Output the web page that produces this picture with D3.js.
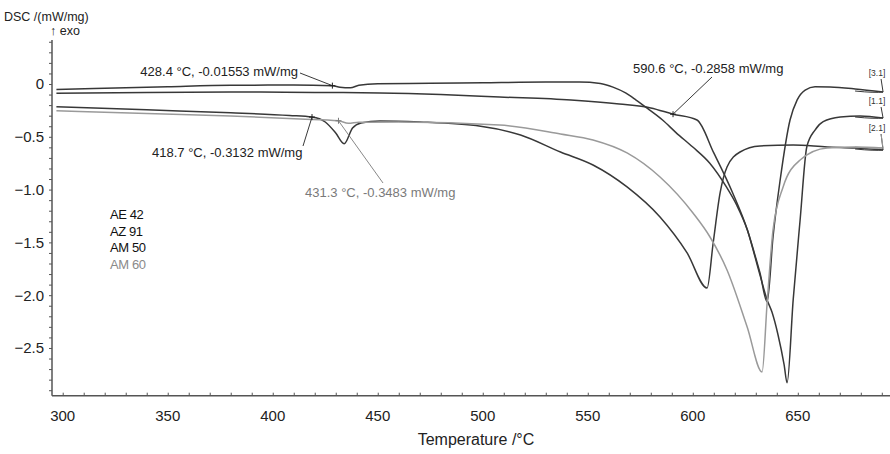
<!DOCTYPE html>
<html>
<head>
<meta charset="utf-8">
<script src="https://cdn.jsdelivr.net/npm/d3@7"></script>
<style>
  html, body { margin: 0; padding: 0; background: #fff; }
  svg { display: block; font-family: "Liberation Sans", Arial, sans-serif; }
</style>
</head>
<body>
<svg id="chart" width="890" height="454"></svg>
<script>
// DSC heating curves of four magnesium alloys (temperature in °C, DSC in mW/mg)
const ae42T = [297, 320, 350, 380, 410, 428.4, 432, 437, 441, 450, 475, 500, 530, 546, 556, 562, 568, 573, 579, 585.6, 592, 600, 608, 616, 621, 626, 629, 632, 635.4, 638.2, 641.6, 646.3, 649.7, 653.5, 658.2, 665.4, 677.3, 690.6];
const ae42V = [-0.052, -0.040, -0.025, -0.012, -0.010, -0.01553, -0.030, -0.036, -0.012, 0.002, 0.006, 0.012, 0.018, 0.018, 0.005, -0.030, -0.085, -0.152, -0.24, -0.341, -0.46, -0.597, -0.748, -0.975, -1.15, -1.383, -1.58, -1.79, -2.064, -1.449, -0.909, -0.341, -0.15, -0.057, -0.025, -0.028, -0.047, -0.076];

const am50T = [297, 340, 380, 420, 451, 480, 508, 542, 565, 580, 590.6, 602, 610, 619, 626, 632, 635.4, 637.7, 640.6, 643.5, 644.9, 647.8, 651.1, 654.3, 658.2, 662.1, 670.2, 679.7, 690.6];
const am50V = [-0.088, -0.080, -0.076, -0.080, -0.085, -0.100, -0.123, -0.152, -0.190, -0.227, -0.2858, -0.341, -0.653, -1.032, -1.383, -1.81, -2.045, -2.16, -2.377, -2.66, -2.83, -2.045, -1.288, -0.594, -0.436, -0.357, -0.3125, -0.303, -0.322];

const az91T = [297, 340, 380, 408, 418.7, 425, 430, 434, 438, 442, 451, 470, 499, 518, 537, 552.5, 568.7, 584.4, 597.3, 606.8, 609.7, 613, 616.3, 622.5, 632, 647.8, 664, 677.3, 690.6];
const az91V = [-0.215, -0.245, -0.272, -0.298, -0.3132, -0.36, -0.464, -0.565, -0.417, -0.37, -0.35, -0.36, -0.40, -0.483, -0.644, -0.767, -0.975, -1.26, -1.6, -1.932, -1.506, -1.032, -0.786, -0.644, -0.587, -0.578, -0.597, -0.606, -0.625];

const am60T = [297, 340, 380, 413, 431.3, 436, 441, 460, 508, 537, 552.5, 568.7, 584.4, 600.1, 608.2, 616.3, 625.9, 633, 635.4, 638.2, 643, 651.1, 664, 677.3, 690.6];
const am60V = [-0.253, -0.280, -0.303, -0.331, -0.3483, -0.372, -0.362, -0.36, -0.388, -0.473, -0.53, -0.653, -0.881, -1.222, -1.449, -1.761, -2.301, -2.727, -2.074, -1.383, -0.975, -0.72, -0.606, -0.597, -0.606];

const seriesNames = ["AE 42", "AZ 91", "AM 50", "AM 60"];
const seriesTags = ["[3.1]", "[2.1]", "[1.1]", "[2.1]"];

// Annotated points: temperature, value
const noteT = [428.4, 590.6, 418.7, 431.3];
const noteV = [-0.01553, -0.2858, -0.3132, -0.3483];

const xTicks = [300, 350, 400, 450, 500, 550, 600, 650];
const yTicks = [0, -0.5, -1.0, -1.5, -2.0, -2.5];

const dark = "#383838", grey = "#9a9a9a";

const svg = d3.select("#chart");
const x = d3.scaleLinear().domain([294.9, 693.9]).range([52, 890]);
const y = d3.scaleLinear().domain([-2.952, 0.4167]).range([395.7, 40]);

const series = [
  { name: seriesNames[0], tag: seriesTags[0], T: ae42T, V: ae42V, color: dark },
  { name: seriesNames[2], tag: seriesTags[2], T: am50T, V: am50V, color: dark },
  { name: seriesNames[1], tag: seriesTags[1], T: az91T, V: az91V, color: dark },
  { name: seriesNames[3], tag: seriesTags[3], T: am60T, V: am60V, color: grey }
];

// Axes
const axisColor = "#555";
const gx = svg.append("g").attr("transform", `translate(0,${y.range()[0]})`);
gx.call(d3.axisBottom(x).tickValues(d3.range(300, 691, 10)).tickSize(-3).tickFormat(""));
gx.call(g => g.select(".domain").remove());
gx.selectAll("line").attr("stroke", axisColor);
svg.append("g").selectAll("text").data(xTicks).join("text")
  .attr("x", d => x(d)).attr("y", 421)
  .attr("text-anchor", "middle").attr("font-size", 15).attr("fill", "#222")
  .text(d => d);

const gy = svg.append("g").attr("transform", `translate(${x.range()[0]},0)`);
gy.call(d3.axisLeft(y).tickValues(d3.range(-29, 5).map(i => i / 10)).tickSize(3).tickFormat(""));
gy.call(g => g.select(".domain").remove());
gy.selectAll("line").attr("stroke", axisColor);
svg.append("g").selectAll("text").data(yTicks).join("text")
  .attr("x", 44).attr("y", d => y(d) + 5.5)
  .attr("text-anchor", "end").attr("font-size", 15).attr("fill", "#222")
  .text(d => d === 0 ? "0" : d3.format(".1f")(d));

svg.append("line").attr("x1", 52).attr("x2", 52).attr("y1", 40).attr("y2", y.range()[0])
  .attr("stroke", axisColor).attr("stroke-width", 1.5);
svg.append("line").attr("x1", 52).attr("x2", 890).attr("y1", y.range()[0]).attr("y2", y.range()[0])
  .attr("stroke", axisColor).attr("stroke-width", 1.5);

// Axis titles
svg.append("text").attr("x", 4).attr("y", 21).attr("font-size", 12.5).attr("fill", "#222").text("DSC /(mW/mg)");
svg.append("text").attr("x", 50).attr("y", 35).attr("font-size", 12.5).attr("fill", "#222").text("\u2191 exo");
svg.append("text").attr("x", 476).attr("y", 445).attr("text-anchor", "middle")
  .attr("font-size", 16).attr("fill", "#222").text("Temperature /\u00B0C");

// Curves
const line = d3.line().x(d => x(d[0])).y(d => y(d[1])).curve(d3.curveMonotoneX);
series.forEach(s => {
  const pts = s.T.map((t, i) => [t, s.V[i]]);
  svg.append("path").datum(pts).attr("d", line)
    .attr("fill", "none").attr("stroke", s.color).attr("stroke-width", 1.5);
});

// Curve tags at the right end with short leaders
const tagPos = { "[3.1]": 76, "[1.1]": 104, "[2.1]": 131 };
series.forEach(s => {
  const tEnd = s.T[s.T.length - 1], vEnd = s.V[s.V.length - 1];
  const ex = x(tEnd), ey = y(vEnd);
  const ty = tagPos[s.tag];
  svg.append("path")
    .attr("d", `M${ex - 28},${ey - 1} Q${ex - 8},${ey + 1} ${ex},${ey} L${ex - 2},${ty + 3}`)
    .attr("fill", "none").attr("stroke", s.color).attr("stroke-width", 1);
});
Object.entries(tagPos).forEach(([tag, ty]) => {
  svg.append("text").attr("x", 877).attr("y", ty).attr("text-anchor", "middle")
    .attr("font-size", 8.5).attr("fill", "#333").text(tag);
});

// Annotations
const notes = [
  { i: 0, text: "428.4 \u00B0C, -0.01553 mW/mg", tx: 298, ty: 76, anchor: "end", lx: 300, ly: 73, color: "#222" },
  { i: 1, text: "590.6 \u00B0C, -0.2858 mW/mg", tx: 633, ty: 73, anchor: "start", lx: 712, ly: 77, color: "#222" },
  { i: 2, text: "418.7 \u00B0C, -0.3132 mW/mg", tx: 152, ty: 157, anchor: "start", lx: 303, ly: 146, color: "#222" },
  { i: 3, text: "431.3 \u00B0C, -0.3483 mW/mg", tx: 305, ty: 197, anchor: "start", lx: 383, ly: 183, color: "#7a7a7a" }
];
notes.forEach(n => {
  const mx = x(noteT[n.i]), my = y(noteV[n.i]);
  svg.append("line").attr("x1", n.lx).attr("y1", n.ly).attr("x2", mx).attr("y2", my)
    .attr("stroke", n.color).attr("stroke-width", 0.9);
  svg.append("path").attr("d", `M${mx - 3},${my}H${mx + 3}M${mx},${my - 3}V${my + 3}`)
    .attr("stroke", n.color).attr("stroke-width", 1);
  svg.append("text").attr("x", n.tx).attr("y", n.ty).attr("text-anchor", n.anchor)
    .attr("font-size", 13).attr("fill", n.color).text(n.text);
});

// Legend
const legendColors = [ "#111", "#111", "#111", "#8a8a8a" ];
svg.append("g").selectAll("text").data(seriesNames).join("text")
  .attr("x", 110).attr("y", (d, i) => 219 + i * 16.5)
  .attr("font-size", 13).attr("letter-spacing", -0.4)
  .attr("fill", (d, i) => legendColors[i]).text(d => d);
</script>
</body>
</html>
